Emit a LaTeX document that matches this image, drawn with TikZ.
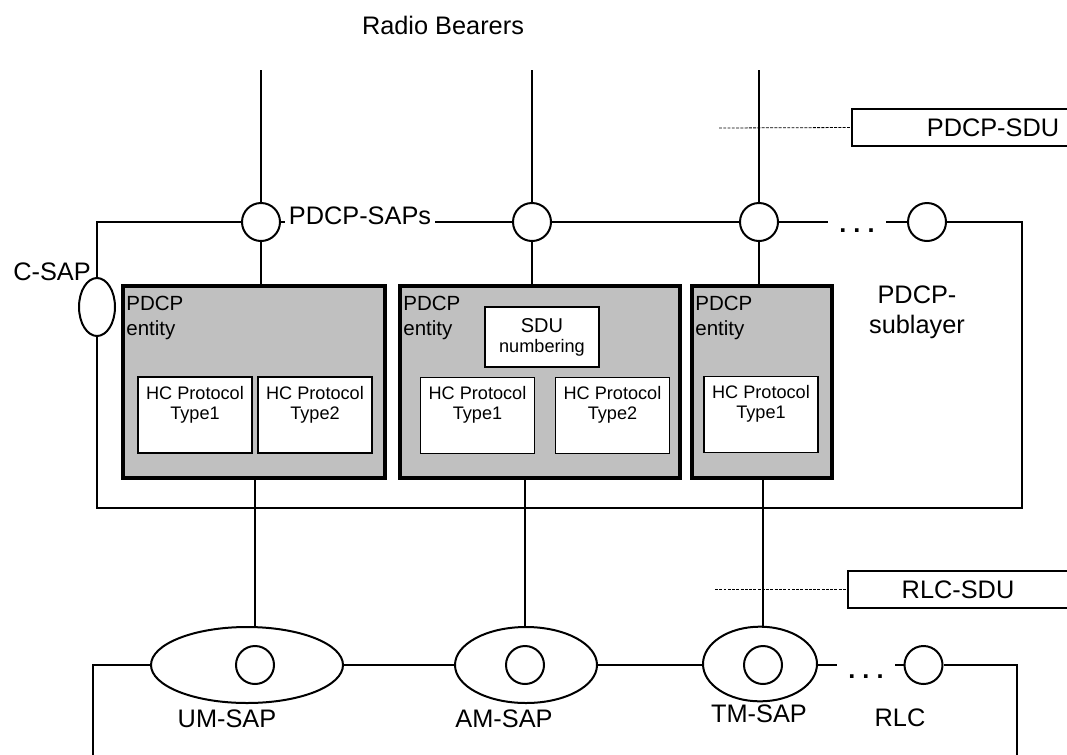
\documentclass[tikz,border=0pt]{standalone}
\usepackage{fontspec}
\setmainfont{Liberation Sans}
\usepackage{tikz}
\usetikzlibrary{shapes.geometric}
\definecolor{entgray}{HTML}{C0C0C0}
\newcommand\lblfont{\fontsize{19pt}{22.5pt}\selectfont}
\newcommand\entfont{\fontsize{15.4pt}{18.75pt}\selectfont}
\newcommand\hcfont{\fontsize{13.6pt}{15pt}\selectfont}

\begin{document}
\begin{tikzpicture}[x=0.75pt,y=-0.75pt,
	sap/.style={circle,draw,line width=1.5pt,fill=white,minimum size=28.5pt,inner sep=0pt},
	rlcsap/.style={ellipse,draw,line width=1.5pt,fill=white,minimum height=57pt,inner sep=0pt},
	entity/.style={draw,line width=3.4pt,fill=entgray,minimum height=144pt,inner sep=0pt,
		label={[anchor=north west,align=left,font=\entfont,inner xsep=4pt,inner ysep=9pt]north west:PDCP\\entity}},
	hcbox/.style={draw,line width=0.8pt,fill=white,minimum width=85.5pt,minimum height=57pt,inner sep=0pt,
		label={[anchor=north,align=center,font=\hcfont,inner sep=7pt]north:#1}},
	sdubox/.style={draw,line width=1pt,minimum height=27.75pt,font=\lblfont},
	lbl/.style={font=\lblfont},
	link/.style={line width=1.5pt},
	tap/.style={line width=1.1pt}
]
\useasboundingbox (0,0) rectangle (1067,754);

\node[lbl] (rb) at (443,25) {Radio Bearers};
\coordinate (rbtop) at (0,70);

\node[sap] (s1) at (261,222) {};
\node[sap] (s2) at (532,222) {};
\node[sap] (s3) at (759,222) {};
\node[sap] (s4) at (927,222) {};
\node[lbl,anchor=base,inner xsep=8.5pt] (dots1) at (857,232) {\textbf{.\ .\ .}};

\draw[link] (s1.west) -| (97,508) -| (1022,222) -- (s4.east);
\draw[link] (s1.east) -- (s2.west);
\draw[link] (s2.east) -- (s3.west);
\draw[link] (s3.east) -- (dots1.west |- s3.east);
\draw[link] (dots1.east |- s4.west) -- (s4.west);
\foreach \s in {s1,s2,s3}
	\draw[link] (\s.north) -- (\s |- rbtop);
\node[lbl,fill=white,anchor=base,inner xsep=3pt,inner ysep=0pt] (saplbl) at (360,224) {PDCP-SAPs};

\node[ellipse,draw,line width=1.5pt,fill=white,minimum width=27pt,minimum height=43.5pt,inner sep=0pt] (csap) at (97,307) {};
\node[lbl] (csaplbl) at (52,272) {C-SAP};

\node[sdubox,minimum width=211.5pt] (pdcpsdu) at (993,127.5) {PDCP-SDU};
\node[sdubox,minimum width=165pt] (rlcsdu) at (958,589.5) {RLC-SDU};
\coordinate (pdash) at (719,128);
\coordinate (rdash) at (715,589.5);
\draw[line width=0.6pt,dash pattern=on 2.2pt off 1pt] (pdash) -- (pdcpsdu.west);
\draw[line width=0.6pt,dash pattern=on 2.2pt off 1pt] (rdash) -- (rlcsdu.west);

\node[lbl,align=center] (sub) at (917,312) {PDCP-\\sublayer};

\node[entity,minimum width=196.5pt] (e1) at (254,382) {};
\node[entity,minimum width=210pt] (e2) at (540,382) {};
\node[entity,minimum width=105pt] (e3) at (762,382) {};

\node[hcbox=HC Protocol\\Type1] (h11) at (195,415) {};
\node[hcbox=HC Protocol\\Type2] (h12) at (315,415) {};
\node[draw,line width=0.8pt,fill=white,minimum width=85.5pt,minimum height=45pt,align=center,font=\hcfont] (sdun) at (542,337) {{\fontsize{15pt}{16.5pt}\selectfont SDU}\\numbering};
\node[hcbox=HC Protocol\\Type1] (h21) at (477.5,415.5) {};
\node[hcbox=HC Protocol\\Type2] (h22) at (612.5,415.5) {};
\node[hcbox=HC Protocol\\Type1] (h31) at (761,414.5) {};

\draw[tap] (s1.south) -- (s1 |- e1.north);
\draw[tap] (s2.south) -- (s2 |- e2.north);
\draw[tap] (s3.south) -- (s3 |- e3.north);

\node[rlcsap,minimum width=144pt] (um) at (247,665) {};
\node[rlcsap,minimum width=106.5pt] (am) at (526,665) {};
\node[rlcsap,minimum width=85.5pt,minimum height=56pt] (tm) at (760,664) {};
\node[sap] (umc) at (255,665) {};
\node[sap] (amc) at (525,665) {};
\node[sap] (tmc) at (763,665) {};
\node[sap] (r4) at (923.5,665) {};
\node[lbl,anchor=base,inner xsep=8.5pt] (dots2) at (866,678) {\textbf{.\ .\ .}};

\draw[link] (umc |- e1.south) -- (umc |- um.north);
\draw[link] (amc |- e2.south) -- (amc |- am.north);
\draw[link] (tmc |- e3.south) -- (tmc |- tm.north);

\draw[link] (um.west) -| (93,760);
\draw[link] (um.east) -- (am.west);
\draw[link] (am.east) -- (tm.west |- am.east);
\draw[link] (tm.east |- am.east) -- (dots2.west |- am.east);
\draw[link] (dots2.east |- r4.west) -- (r4.west);
\draw[link] (r4.east) -| (1017,760);

\node[lbl] (umlbl) at (227,719) {UM-SAP};
\node[lbl] (amlbl) at (504,719) {AM-SAP};
\node[lbl] (tmlbl) at (759,714) {TM-SAP};
\node[lbl] (rlclbl) at (900,718) {RLC};
\end{tikzpicture}
\end{document}
